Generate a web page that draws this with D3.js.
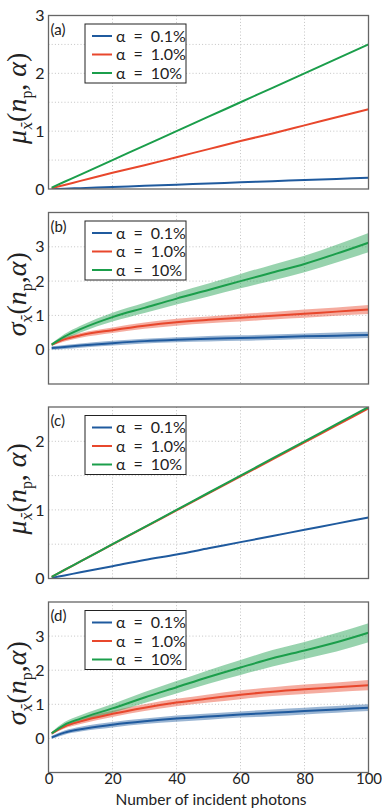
<!DOCTYPE html>
<html><head><meta charset="utf-8">
<script src="https://cdn.jsdelivr.net/npm/d3@7"></script>
<style>body{margin:0;background:#fff}svg{display:block}</style>
</head><body>
<script>
// ---- data ----
const photons = [1, 5, 10, 20, 30, 40, 50, 60, 70, 80, 90, 100];
const seriesLabels = ["α\u2002=\u20020.1%", "α\u2002=\u20021.0%", "α\u2002=\u200210%"];
const seriesColors = ["#1f5a9e", "#e8472c", "#1b9e4b"];
const xTicks = [0, 20, 40, 60, 80, 100];

// panel (a) mean
const muA_01 = [0.0, 0.005, 0.015, 0.035, 0.055, 0.075, 0.095, 0.115, 0.135, 0.155, 0.175, 0.195];
const muA_1  = [0.014, 0.07, 0.14, 0.28, 0.41, 0.55, 0.69, 0.83, 0.96, 1.10, 1.24, 1.38];
const muA_10 = [0.025, 0.125, 0.25, 0.5, 0.75, 1.0, 1.25, 1.5, 1.75, 2.0, 2.25, 2.5];
// panel (b) std
const sdB_01 = [0.05, 0.08, 0.12, 0.19, 0.25, 0.29, 0.32, 0.34, 0.36, 0.39, 0.41, 0.43];
const sdB_1  = [0.15, 0.30, 0.42, 0.57, 0.70, 0.80, 0.87, 0.93, 0.99, 1.05, 1.11, 1.17];
const sdB_10 = [0.15, 0.38, 0.60, 0.95, 1.22, 1.49, 1.74, 2.00, 2.25, 2.50, 2.80, 3.12];
const bandB_01 = [0.05, 0.06, 0.06, 0.07, 0.07, 0.07, 0.08, 0.08, 0.08, 0.08, 0.09, 0.09];
const bandB_1  = [0.04, 0.06, 0.07, 0.08, 0.09, 0.10, 0.10, 0.11, 0.11, 0.12, 0.12, 0.13];
const bandB_10 = [0.04, 0.08, 0.10, 0.13, 0.15, 0.17, 0.19, 0.21, 0.23, 0.24, 0.26, 0.28];
// panel (c) mean
const muC_01 = [0.009, 0.045, 0.09, 0.18, 0.27, 0.35, 0.44, 0.53, 0.62, 0.71, 0.80, 0.89];
const muC_1  = [0.025, 0.124, 0.248, 0.496, 0.744, 0.992, 1.24, 1.488, 1.736, 1.984, 2.232, 2.48];
const muC_10 = [0.025, 0.125, 0.25, 0.5, 0.75, 1.0, 1.25, 1.5, 1.75, 2.0, 2.25, 2.5];
// panel (d) std
const sdD_01 = [0.03, 0.17, 0.27, 0.40, 0.50, 0.58, 0.64, 0.70, 0.75, 0.80, 0.85, 0.90];
const sdD_1  = [0.15, 0.35, 0.50, 0.72, 0.90, 1.05, 1.17, 1.28, 1.37, 1.44, 1.50, 1.56];
const sdD_10 = [0.15, 0.40, 0.58, 0.88, 1.20, 1.50, 1.80, 2.08, 2.35, 2.58, 2.82, 3.10];
const bandD_01 = [0.05, 0.06, 0.07, 0.08, 0.08, 0.09, 0.09, 0.09, 0.10, 0.10, 0.10, 0.10];
const bandD_1  = [0.04, 0.06, 0.08, 0.09, 0.10, 0.11, 0.12, 0.13, 0.13, 0.14, 0.14, 0.15];
const bandD_10 = [0.04, 0.08, 0.10, 0.13, 0.16, 0.18, 0.20, 0.22, 0.24, 0.25, 0.27, 0.28];

const panels = [
  {tag:"(a)", kind:"mu", top:15.5, bottom:189, yDomain:[0,3], yLabels:[0,1,2,3], yGrid:[0.5,1,1.5,2,2.5],
   series:[muA_01, muA_1, muA_10]},
  {tag:"(b)", kind:"sigma", top:212.5, bottom:384, yDomain:[-1,4], yLabels:[0,1,2,3], yGrid:[0,1,2,3],
   series:[sdB_01, sdB_1, sdB_10], bands:[bandB_01, bandB_1, bandB_10]},
  {tag:"(c)", kind:"mu", top:407, bottom:578.5, yDomain:[0,2.5], yLabels:[0,1,2], yGrid:[0.5,1,1.5,2],
   series:[muC_01, muC_1, muC_10]},
  {tag:"(d)", kind:"sigma", top:602, bottom:772.5, yDomain:[-1,4], yLabels:[0,1,2,3], yGrid:[0,1,2,3],
   series:[sdD_01, sdD_1, sdD_10], bands:[bandD_01, bandD_1, bandD_10], xAxis:true}
];

const W = 382, H = 808;
const left = 48.5, right = 368.5;
const sans = "Lato, 'Open Sans', sans-serif";
const serif = "'Liberation Serif', 'DejaVu Serif', serif";

const svg = d3.select("body").append("svg").attr("width", W).attr("height", H);
const x = d3.scaleLinear().domain([0, 100]).range([left, right]);

panels.forEach((p, pi) => {
  const y = d3.scaleLinear().domain(p.yDomain).range([p.bottom, p.top]);
  const g = svg.append("g");
  const clipId = "clip" + pi;
  svg.append("clipPath").attr("id", clipId).append("rect")
    .attr("x", left).attr("y", p.top).attr("width", right - left).attr("height", p.bottom - p.top);

  // grid
  g.selectAll(".gx").data(xTicks.slice(1, -1)).join("line")
    .attr("x1", d => x(d)).attr("x2", d => x(d)).attr("y1", p.top).attr("y2", p.bottom)
    .attr("stroke", "#c4c4c4").attr("stroke-width", 1).attr("stroke-dasharray", "1,2.2");
  g.selectAll(".gy").data(p.yGrid).join("line")
    .attr("x1", left).attr("x2", right).attr("y1", d => y(d)).attr("y2", d => y(d))
    .attr("stroke", "#c4c4c4").attr("stroke-width", 1).attr("stroke-dasharray", "1,2.2");

  const plot = g.append("g").attr("clip-path", `url(#${clipId})`);
  if (p.bands) {
    p.series.forEach((s, i) => {
      const area = d3.area().curve(d3.curveMonotoneX)
        .x((d, j) => x(photons[j]))
        .y0((d, j) => y(s[j] - p.bands[i][j]))
        .y1((d, j) => y(s[j] + p.bands[i][j]));
      plot.append("path").datum(s).attr("d", area)
        .attr("fill", seriesColors[i]).attr("fill-opacity", 0.45);
    });
  }
  p.series.forEach((s, i) => {
    const line = d3.line().curve(d3.curveMonotoneX)
      .x((d, j) => x(photons[j])).y(d => y(d));
    plot.append("path").datum(s).attr("d", line)
      .attr("fill", "none").attr("stroke", seriesColors[i]).attr("stroke-width", 2);
  });

  // frame
  g.append("rect").attr("x", left).attr("y", p.top).attr("width", right - left).attr("height", p.bottom - p.top)
    .attr("fill", "none").attr("stroke", "#666").attr("stroke-width", 1.3);

  // y tick labels
  const yAxis = d3.axisLeft(y).tickValues(p.yLabels).tickSize(0).tickPadding(4).tickFormat(d3.format("d"));
  const ya = g.append("g").attr("transform", `translate(${left},0)`).call(yAxis);
  ya.select(".domain").remove();
  ya.selectAll("text").attr("font-family", sans).attr("font-size", 16).attr("fill", "#222");

  if (p.xAxis) {
    const xAxis = d3.axisBottom(x).tickValues(xTicks).tickSize(0).tickPadding(1).tickFormat(d3.format("d"));
    const xa = g.append("g").attr("transform", `translate(0,${p.bottom})`).call(xAxis);
    xa.select(".domain").remove();
    xa.selectAll("text").attr("font-family", sans).attr("font-size", 15).attr("fill", "#222");
    g.append("text").attr("x", 211).attr("y", 804.5)
      .attr("text-anchor", "middle").attr("font-family", sans).attr("font-size", 15.5).attr("fill", "#222")
      .text("Number of incident photons");
  }

  // panel tag
  g.append("text").attr("x", left + 2).attr("y", p.top + 19)
    .attr("font-family", sans).attr("font-size", 15).attr("fill", "#222").text(p.tag);

  // legend
  const lx = left + 36.5, ly = p.top + 8.5;
  g.append("rect").attr("x", lx).attr("y", ly).attr("width", 101).attr("height", 59)
    .attr("fill", "#fff").attr("stroke", "#222").attr("stroke-width", 1);
  seriesLabels.forEach((lab, i) => {
    const yy = ly + 12 + i * 18.5;
    g.append("line").attr("x1", lx + 7).attr("x2", lx + 27).attr("y1", yy).attr("y2", yy)
      .attr("stroke", seriesColors[i]).attr("stroke-width", 2);
    g.append("text").attr("x", lx + 31).attr("y", yy + 5.5)
      .attr("font-family", sans).attr("font-size", 16).attr("fill", "#222")
      .text(lab);
  });

  // y label (math)
  const cy = (p.top + p.bottom) / 2 - 4;
  const t = g.append("text").attr("transform", `translate(26,${cy}) rotate(-90)`)
    .attr("text-anchor", "middle").attr("font-family", serif).attr("font-size", 28).attr("fill", "#222");
  t.append("tspan").attr("font-style", "italic").text(p.kind === "mu" ? "μ" : "σ");
  t.append("tspan").attr("font-family", "'DejaVu Serif', serif").attr("font-style", "italic")
    .attr("font-size", 14).attr("dy", 6).text("x\u0304");
  t.append("tspan").attr("dy", -6).text("(");
  t.append("tspan").attr("font-style", "italic").text("n");
  t.append("tspan").attr("font-size", 16).attr("dy", 6).text("p");
  t.append("tspan").attr("dy", -6).text(p.kind === "mu" ? ", " : ",");
  t.append("tspan").attr("font-style", "italic").text("α");
  t.append("tspan").text(")");
});
</script>
</body></html>
